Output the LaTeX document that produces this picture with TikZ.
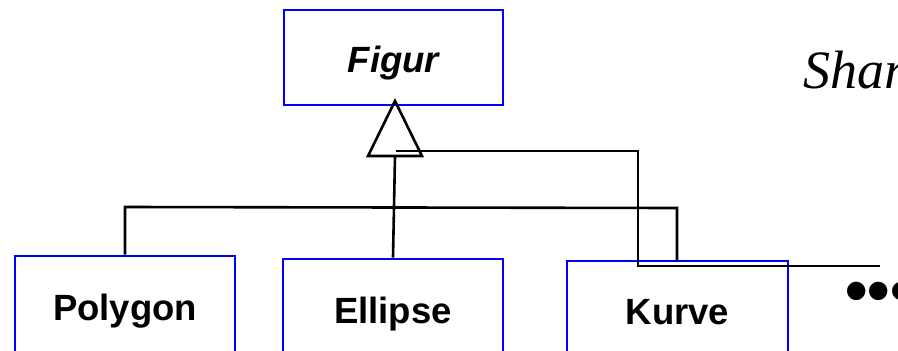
\documentclass[tikz,border=0pt]{standalone}
\usepackage{fontspec}
\setmainfont{Liberation Sans}
\newfontfamily\serifit{Liberation Serif}
\begin{document}
\begin{tikzpicture}[x=1pt,y=-1pt,
  classbox/.style={draw=blue,line width=2.8pt,rectangle,inner sep=0pt,
    text height=29pt,text depth=0pt,
    font=\fontsize{36.5}{40}\selectfont\bfseries},
  conn/.style={draw=black,line width=2.6pt}]
\useasboundingbox (0,0) rectangle (898,351);
\clip (0,0) rectangle (898,351);
% boxes
\node[classbox,minimum width=219pt,minimum height=95pt] (figur) at (393.5,57.5) {\itshape Figur};
\node[classbox,minimum width=220pt,minimum height=99pt] (polygon) at (125,305.5) {Polygon};
\node[classbox,minimum width=220pt,minimum height=99pt] (ellipse) at (393,308.5) {Ellipse};
\node[classbox,minimum width=221pt,minimum height=97pt] (kurve) at (677.5,309.5) {Kurve};
% generalization triangle
\coordinate (apex) at (395,101);
\coordinate (tbl) at (368,156);
\coordinate (tbr) at (422,156);
\coordinate (tbc) at (395,156);
\draw[conn,line join=miter] (apex) -- (tbl) -- (tbr) -- cycle;
% connectors
\coordinate (s1) at (396,151);
\coordinate (free) at (880,266);
\draw[conn] (s1) -- (638,151) -- (638,266) -- (free);
\draw[conn] (polygon.north) -- (125,207) -- (677,208) -- (677,261);
\draw[conn] (ellipse.north) -- (tbc);
% texts
\node[anchor=base west,inner sep=0pt,font=\fontsize{54}{60}\selectfont\serifit\itshape] (shar) at (803,88) {Shar};
\node[inner sep=0pt,font=\fontsize{64}{64}\selectfont\bfseries] (dots) at (879,297) {•••};
\end{tikzpicture}
\end{document}
